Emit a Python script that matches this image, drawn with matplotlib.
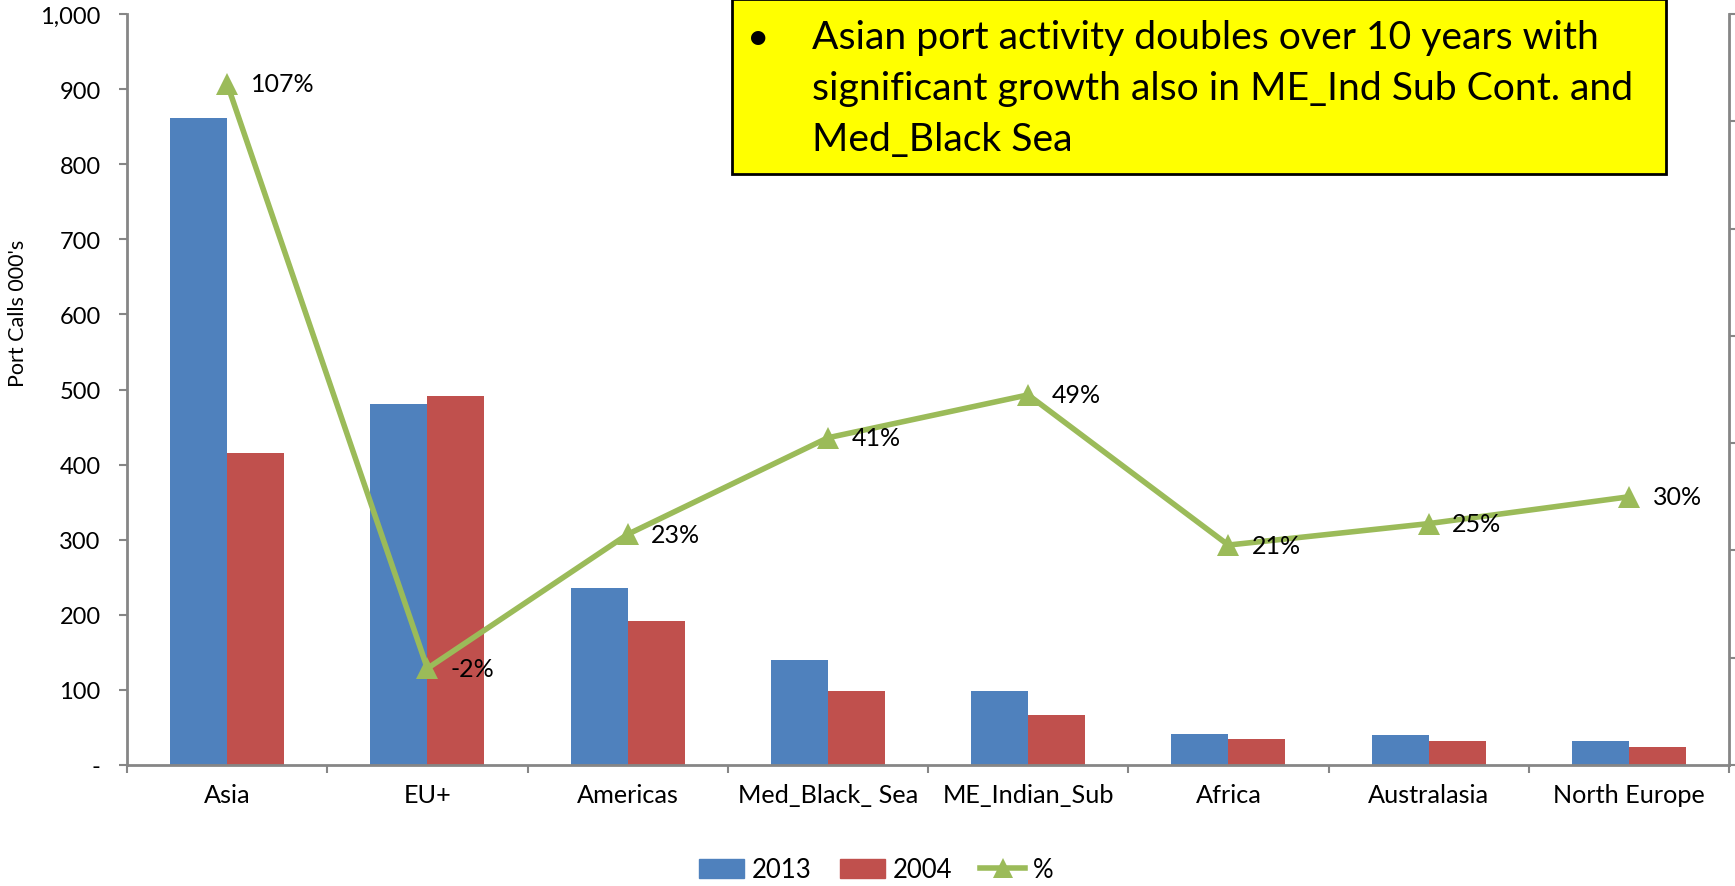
import numpy as np
import matplotlib
matplotlib.use('Agg')
import matplotlib.pyplot as plt
from matplotlib.patches import Rectangle, Patch
from matplotlib.lines import Line2D
from matplotlib.ticker import FuncFormatter, FixedLocator

plt.rcParams['font.family'] = ['Lato', 'DejaVu Sans']

regions = ['Asia', 'EU+', 'Americas', 'Med_Black_ Sea', 'ME_Indian_Sub',
           'Africa', 'Australasia', 'North Europe']
calls_2013 = [861, 481, 236, 140, 99, 41, 40, 32]
calls_2004 = [416, 491, 192, 99, 67, 34, 32, 24]
growth_pct = [107, -2, 23, 41, 49, 21, 25, 30]

note_lines = ['Asian port activity doubles over 10 years with',
              'significant growth also in ME_Ind Sub Cont. and',
              'Med_Black Sea']

blue = '#4F81BD'
red = '#C0504D'
green = '#9BBB59'
grey = '#868686'

fig = plt.figure(figsize=(17.35, 8.87), dpi=100)
ax = fig.add_axes([127 / 1735, 1 - 766 / 887, (1729 - 127) / 1735, (766 - 15) / 887])

x = np.arange(len(regions))
w = 0.285
ax.bar(x - w / 2, calls_2013, w, color=blue, linewidth=0)
ax.bar(x + w / 2, calls_2004, w, color=red, linewidth=0)

ax.set_xlim(-0.5, len(regions) - 0.5)
ax.set_ylim(0, 1000)
ax.set_yticks(np.arange(0, 1001, 100))
ax.yaxis.set_major_formatter(FuncFormatter(lambda v, p: '-' if v == 0 else f'{int(v):,}'))
ax.tick_params(axis='y', direction='out', length=6, width=1.5, color=grey,
               labelsize=17, pad=13)

ax.xaxis.set_major_locator(FixedLocator(np.arange(-0.5, len(regions), 1.0)))
ax.xaxis.set_minor_locator(FixedLocator(x))
ax.set_xticklabels([], minor=False)
ax.set_xticklabels(regions, minor=True)
ax.tick_params(axis='x', which='major', direction='out', length=6, width=1.5, color=grey)
ax.tick_params(axis='x', which='minor', length=0, labelsize=18.2, pad=13)

for s in ['top', 'right']:
    ax.spines[s].set_visible(False)
for s in ['left', 'bottom']:
    ax.spines[s].set_color(grey)
    ax.spines[s].set_linewidth(2)

ax.set_ylabel("Port Calls 000's", fontsize=15.5)
ax.yaxis.set_label_coords(-0.062, 0.603)

ax2 = ax.twinx()
ax2.plot(x, growth_pct, color=green, linewidth=4, marker='^', markersize=16,
         markeredgewidth=0, zorder=3)
ax2.set_ylim(-20, 120)
ax2.set_yticks(np.arange(-20, 121, 20))
ax2.set_yticklabels([])
ax2.tick_params(axis='y', direction='out', length=6, width=1.5, color=grey)
for s in ['top', 'left', 'bottom']:
    ax2.spines[s].set_visible(False)
ax2.spines['right'].set_color(grey)
ax2.spines['right'].set_linewidth(2)

for xi, p in zip(x, growth_pct):
    ax2.annotate(f'{p}%', (xi, p), xytext=(17, 0), textcoords='offset points',
                 ha='left', va='center', fontsize=18)

# yellow note box
fig.patches.append(Rectangle((732 / 1735, 1 - 175 / 887), (1666 - 732) / 1735, 175 / 887,
                             transform=fig.transFigure, facecolor='#FFFF00',
                             edgecolor='black', linewidth=2, zorder=5))
fig.text(758 / 1735, 1 - 49 / 887, '\u2022', fontsize=28, ha='center', va='baseline', zorder=6)
for i, line in enumerate(note_lines):
    fig.text(812 / 1735, 1 - (49 + 51 * i) / 887, line, fontsize=28.2,
             ha='left', va='baseline', zorder=6)

handles = [Patch(color=blue), Patch(color=red),
           Line2D([0], [0], color=green, linewidth=4, marker='^', markersize=14,
                  markeredgewidth=0)]
fig.legend(handles, ['2013', '2004', '%'], loc='center', bbox_to_anchor=(0.505, 1 - 871 / 887),
           ncol=3, frameon=False, fontsize=18.5, handlelength=1.75, handleheight=0.8,
           handletextpad=0.3, columnspacing=1.1)

fig.savefig('out.png', dpi=100)
